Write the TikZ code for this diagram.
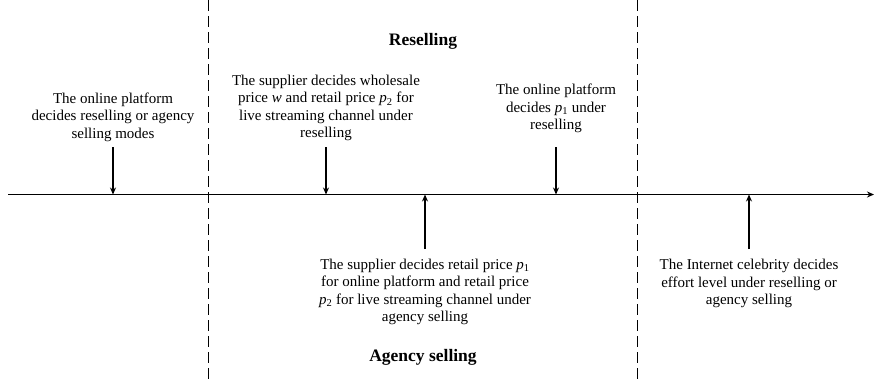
\documentclass[tikz,border=0pt]{standalone}
\usepackage{fontspec}
\setmainfont{Liberation Serif}
\usetikzlibrary{arrows.meta}
\begin{document}
\begin{tikzpicture}[x=1pt,y=-1pt,
  lbl/.style={align=center,font=\fontsize{15}{17.5}\selectfont,inner sep=0pt},
  ttl/.style={font=\fontsize{17.5}{20}\selectfont\bfseries,inner sep=0pt},
  arr/.style={line width=1.3pt,-{Stealth[length=7pt,width=6pt]}},
  axis/.style={line width=1.5pt,-{Stealth[length=7pt,width=6pt]}},
  sep/.style={line width=0.8pt,dash pattern=on 11pt off 5pt}]
\useasboundingbox (0,0) rectangle (876,384);
% separators
\coordinate (s1t) at (208,0); \coordinate (s1b) at (208,384);
\coordinate (s2t) at (637,0); \coordinate (s2b) at (637,384);
\draw[sep] (s1t) -- (s1b);
\draw[sep] (s2t) -- (s2b);
% axis
\coordinate (a0) at (8,194.5); \coordinate (a1) at (874,194.5);
\draw[axis] (a0) -- (a1);
\coordinate (t1) at (113,194.5);
\coordinate (t2) at (326,194.5);
\coordinate (t3) at (556,194.5);
\coordinate (t4) at (425,194.5);
\coordinate (t5) at (749,194.5);
% arrow tails
\coordinate (h1) at (113,147);
\coordinate (h2) at (326,147);
\coordinate (h3) at (556,147);
\coordinate (h4) at (425,249);
\coordinate (h5) at (749,249);
% titles
\node[ttl] (res) at (423,41) {Reselling};
\node[ttl] (ag) at (423,357) {Agency selling};
% labels
\node[lbl] (l1) at (113,117) {The online platform\\decides reselling or agency\\selling modes};
\node[lbl] (l2) at (326,108) {The supplier decides wholesale\\price \textit{w} and retail price \textit{p}\textsubscript{2} for\\live streaming channel under\\reselling};
\node[lbl] (l3) at (556,108.5) {The online platform\\decides \textit{p}\textsubscript{1} under\\reselling};
\node[lbl] (l4) at (425,292) {The supplier decides retail price \textit{p}\textsubscript{1}\\for online platform and retail price\\\textit{p}\textsubscript{2} for live streaming channel under\\agency selling};
\node[lbl] (l5) at (749,283.5) {The Internet celebrity decides\\effort level under reselling or\\agency selling};
% arrows
\draw[arr] (h1) -- (t1);
\draw[arr] (h2) -- (t2);
\draw[arr] (h3) -- (t3);
\draw[arr] (h4) -- (t4);
\draw[arr] (h5) -- (t5);
\end{tikzpicture}
\end{document}
